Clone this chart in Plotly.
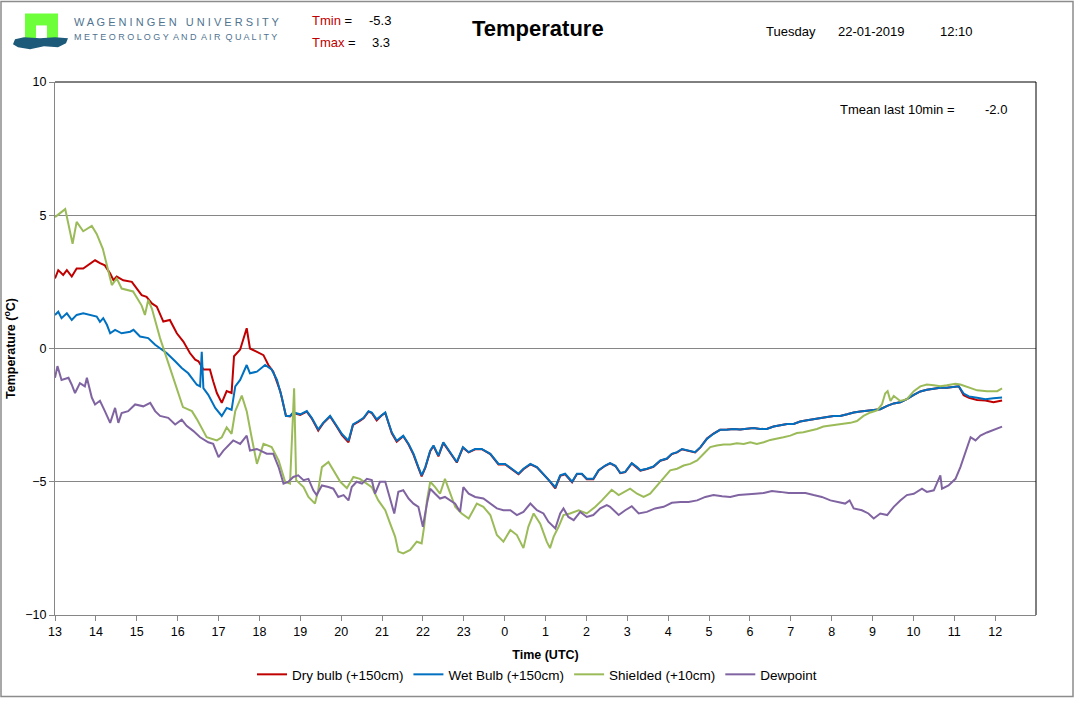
import pandas as pd
import plotly.graph_objects as go

# hours since 21-01-2019 13:00 UTC, temperatures in degC
DRY_H = [0.00, 0.08, 0.20, 0.29, 0.41, 0.53, 0.69, 0.86, 0.98, 1.10, 1.22, 1.35, 1.43, 1.51,
         1.67, 1.88, 2.00, 2.12, 2.24, 2.37, 2.49, 2.65, 2.81, 2.98, 3.14, 3.30, 3.43, 3.51,
         3.63, 3.79, 3.87, 3.96, 4.08, 4.20, 4.32, 4.38, 4.53, 4.61, 4.69, 4.77, 4.94, 5.10,
         5.22, 5.34, 5.51, 5.65, 5.75, 5.83, 6.00, 6.16, 6.28, 6.44, 6.56, 6.73, 6.89, 7.02,
         7.18, 7.29, 7.42, 7.55, 7.67, 7.75, 7.87, 8.00, 8.08, 8.16, 8.24, 8.36, 8.52, 8.65,
         8.77, 8.89, 8.97, 9.06, 9.18, 9.26, 9.38, 9.50, 9.67, 9.83, 9.98, 10.12, 10.28, 10.44,
         10.65, 10.85, 11.01, 11.18, 11.34, 11.46, 11.63, 11.79, 11.91, 12.07, 12.24, 12.36,
         12.48, 12.65, 12.77, 12.89, 13.01, 13.17, 13.30, 13.46, 13.58, 13.71, 13.83, 13.95,
         14.11, 14.24, 14.32, 14.48, 14.64, 14.81, 14.97, 15.09, 15.22, 15.34, 15.50, 15.66,
         15.79, 15.95, 16.11, 16.27, 16.44, 16.60, 16.76, 16.93, 17.09, 17.25, 17.42, 17.58,
         17.74, 17.91, 18.07, 18.23, 18.40, 18.56, 18.72, 18.89, 19.05, 19.21, 19.38, 19.54,
         19.70, 19.87, 20.03, 20.19, 20.36, 20.52, 20.68, 20.84, 21.01, 21.17, 21.33, 21.50,
         21.66, 21.82, 21.99, 22.11, 22.23, 22.36, 22.56, 22.76, 22.96, 23.17]
DRY_T = [2.63, 2.94, 2.76, 2.94, 2.70, 3.00, 3.00, 3.20, 3.31, 3.20, 3.12, 2.81, 2.56, 2.70,
         2.56, 2.50, 2.25, 2.00, 1.94, 1.69, 1.57, 1.01, 1.07, 0.57, 0.26, -0.17, -0.42, -0.48,
         -0.79, -0.79, -1.23, -1.67, -2.04, -1.60, -1.67, -0.29, -0.04, 0.39, 0.76, 0.00, -0.12, -0.25,
         -0.62, -0.87, -1.60, -2.53, -2.55, -2.42, -2.49, -2.37, -2.62, -3.08, -2.81, -2.55, -2.93, -3.25,
         -3.52, -2.87, -2.75, -2.62, -2.37, -2.42, -2.70, -2.50, -2.42, -2.81, -3.18, -3.50, -3.29, -3.60,
         -3.98, -4.48, -4.80, -4.47, -3.85, -3.66, -4.05, -3.54, -3.90, -4.28, -3.72, -3.90, -3.78, -3.78,
         -3.96, -4.35, -4.34, -4.53, -4.72, -4.53, -4.35, -4.46, -4.66, -4.92, -5.25, -4.78,
         -4.72, -5.02, -4.71, -4.71, -4.91, -4.91, -4.58, -4.40, -4.31, -4.41, -4.68, -4.64,
         -4.31, -4.46, -4.58, -4.52, -4.44, -4.21, -4.14, -3.96, -3.90, -3.78, -3.84, -3.90,
         -3.71, -3.38, -3.19, -3.05, -3.04, -3.02, -3.04, -3.02, -2.98, -3.02, -3.01, -2.93,
         -2.88, -2.83, -2.83, -2.74, -2.69, -2.66, -2.62, -2.57, -2.53, -2.53, -2.47, -2.40,
         -2.36, -2.34, -2.32, -2.28, -2.15, -2.06, -2.02, -1.90, -1.74, -1.61, -1.55, -1.51,
         -1.47, -1.47, -1.45, -1.42, -1.75, -1.85, -1.93, -1.95, -2.02, -1.95]

WET_H = [0.00, 0.08, 0.16, 0.29, 0.41, 0.53, 0.69, 0.86, 1.02, 1.10, 1.18, 1.27, 1.35, 1.47,
         1.63, 1.84, 1.92, 2.08, 2.28, 2.45, 2.61, 2.73, 2.94, 3.10, 3.26, 3.47, 3.55, 3.59,
         3.63, 3.75, 3.92, 4.08, 4.20, 4.32, 4.41, 4.53, 4.69, 4.77, 4.94, 5.06, 5.14, 5.30,
         5.43, 5.55, 5.65, 5.75, 5.83, 6.00, 6.16, 6.28, 6.44, 6.56, 6.73, 6.89, 7.02,
         7.18, 7.29, 7.42, 7.55, 7.67, 7.75, 7.87, 8.00, 8.08, 8.16, 8.24, 8.36, 8.52, 8.65,
         8.77, 8.89, 8.97, 9.06, 9.18, 9.26, 9.38, 9.50, 9.67, 9.83, 9.98, 10.12, 10.28, 10.44,
         10.65, 10.85, 11.01, 11.18, 11.34, 11.46, 11.63, 11.79, 11.91, 12.07, 12.24, 12.36,
         12.48, 12.65, 12.77, 12.89, 13.01, 13.17, 13.30, 13.46, 13.58, 13.71, 13.83, 13.95,
         14.11, 14.24, 14.32, 14.48, 14.64, 14.81, 14.97, 15.09, 15.22, 15.34, 15.50, 15.66,
         15.79, 15.95, 16.11, 16.27, 16.44, 16.60, 16.76, 16.93, 17.09, 17.25, 17.42, 17.58,
         17.74, 17.91, 18.07, 18.23, 18.40, 18.56, 18.72, 18.89, 19.05, 19.21, 19.38, 19.54,
         19.70, 19.87, 20.03, 20.19, 20.36, 20.52, 20.68, 20.84, 21.01, 21.17, 21.33, 21.50,
         21.66, 21.82, 21.99, 22.11, 22.23, 22.36, 22.56, 22.76, 22.96, 23.17]
WET_T = [1.26, 1.38, 1.14, 1.32, 1.07, 1.26, 1.32, 1.26, 1.20, 1.00, 1.14, 0.89, 0.57, 0.70,
         0.57, 0.63, 0.70, 0.45, 0.39, 0.14, -0.04, -0.17, -0.48, -0.73, -0.93, -1.36, -1.42, -0.12,
         -1.49, -1.74, -2.23, -2.53, -2.23, -2.30, -1.42, -1.18, -0.62, -0.93, -0.87, -0.73, -0.62, -0.79,
         -1.18, -1.84, -2.53, -2.53, -2.40, -2.47, -2.35, -2.60, -3.04, -2.79, -2.53, -2.90, -3.21,
         -3.46, -2.85, -2.73, -2.60, -2.35, -2.40, -2.66, -2.48, -2.40, -2.79, -3.15, -3.46, -3.27, -3.58,
         -3.95, -4.45, -4.76, -4.45, -3.83, -3.64, -4.02, -3.52, -3.89, -4.26, -3.70, -3.89, -3.77, -3.77,
         -3.95, -4.33, -4.33, -4.51, -4.70, -4.51, -4.33, -4.45, -4.64, -4.89, -5.20, -4.76,
         -4.70, -5.00, -4.70, -4.70, -4.89, -4.89, -4.57, -4.39, -4.30, -4.40, -4.67, -4.63,
         -4.30, -4.45, -4.57, -4.51, -4.43, -4.20, -4.13, -3.95, -3.89, -3.77, -3.83, -3.89,
         -3.70, -3.39, -3.20, -3.05, -3.05, -3.02, -3.04, -3.02, -2.98, -3.02, -3.02, -2.93,
         -2.88, -2.83, -2.83, -2.74, -2.69, -2.66, -2.62, -2.57, -2.53, -2.53, -2.47, -2.40,
         -2.36, -2.34, -2.32, -2.28, -2.15, -2.06, -2.02, -1.90, -1.74, -1.61, -1.55, -1.51,
         -1.47, -1.47, -1.45, -1.42, -1.69, -1.80, -1.85, -1.90, -1.87, -1.84]

SHD_H = [0.00, 0.25, 0.43, 0.53, 0.69, 0.90, 1.02, 1.17, 1.39, 1.51, 1.63, 1.91, 2.12, 2.20,
         2.28, 2.37, 2.57, 2.73, 2.94, 3.13, 3.35, 3.47, 3.71, 3.96, 4.08, 4.20, 4.32, 4.41,
         4.57, 4.69, 4.81, 4.94, 5.10, 5.30, 5.47, 5.63, 5.75, 5.85, 5.90, 6.08, 6.20, 6.36,
         6.44, 6.53, 6.69, 6.85, 6.98, 7.14, 7.30, 7.46, 7.63, 7.75, 7.91, 8.08, 8.20, 8.32,
         8.40, 8.52, 8.69, 8.85, 8.97, 9.03, 9.10, 9.18, 9.30, 9.42, 9.54, 9.67, 9.79, 9.95,
         10.12, 10.32, 10.48, 10.65, 10.81, 10.97, 11.14, 11.30, 11.46, 11.58, 11.71, 11.87,
         12.03, 12.11, 12.20, 12.32, 12.44, 12.60, 12.81, 13.01, 13.22, 13.38, 13.50, 13.62,
         13.79, 13.95, 14.07, 14.24, 14.40, 14.56, 14.73, 14.89, 15.05, 15.22, 15.38, 15.54,
         15.71, 15.87, 16.03, 16.19, 16.36, 16.52, 16.68, 16.85, 17.01, 17.17, 17.34, 17.50,
         17.66, 17.82, 17.99, 18.15, 18.31, 18.48, 18.64, 18.80, 18.97, 19.13, 19.29, 19.46,
         19.62, 19.78, 19.95, 20.11, 20.23, 20.31, 20.37, 20.44, 20.52, 20.68, 20.84, 21.01,
         21.17, 21.33, 21.50, 21.66, 21.82, 22.03, 22.15, 22.36, 22.56, 22.80, 23.05, 23.17]
SHD_T = [4.93, 5.23, 3.93, 4.75, 4.40, 4.60, 4.30, 3.74, 2.38, 2.63, 2.25, 2.14, 1.61, 1.26,
         1.82, 1.50, 0.39, -0.35, -1.35, -2.20, -2.35, -2.65, -3.33, -3.45, -3.33, -2.96, -3.20, -2.35,
         -1.77, -2.35, -3.33, -4.33, -3.58, -3.70, -4.20, -5.00, -5.07, -1.49, -4.94, -5.20, -5.57, -5.82,
         -5.32, -4.45, -4.26, -4.64, -5.00, -5.24, -4.82, -4.89, -5.07, -5.20, -5.70, -6.07, -6.57, -7.06,
         -7.62, -7.69, -7.56, -7.25, -7.31, -6.69, -5.70, -5.00, -5.20, -5.45, -4.89, -5.45, -5.94, -6.19,
         -6.38, -5.82, -5.94, -6.25, -7.00, -7.25, -6.81, -7.00, -7.49, -6.69, -6.19, -6.57,
         -7.25, -7.49, -7.06, -6.69, -6.25, -6.19, -6.07, -6.19, -5.94, -5.70, -5.50, -5.30,
         -5.50, -5.38, -5.26, -5.45, -5.57, -5.45, -5.14, -4.89, -4.57, -4.51, -4.39, -4.33,
         -4.20, -3.95, -3.70, -3.64, -3.60, -3.60, -3.56, -3.58, -3.52, -3.58, -3.52, -3.43,
         -3.39, -3.33, -3.27, -3.17, -3.14, -3.08, -3.02, -2.93, -2.89, -2.86, -2.83, -2.79,
         -2.72, -2.53, -2.40, -2.32, -2.10, -1.69, -1.60, -1.97, -1.78, -1.97, -1.90, -1.60,
         -1.42, -1.35, -1.38, -1.42, -1.38, -1.32, -1.35, -1.47, -1.57, -1.60, -1.60, -1.50]

DEW_H = [0.00, 0.06, 0.16, 0.33, 0.41, 0.49, 0.61, 0.73, 0.78, 0.90, 0.98, 1.10, 1.22, 1.35,
         1.47, 1.55, 1.63, 1.79, 1.96, 2.16, 2.33, 2.45, 2.57, 2.77, 2.94, 3.10, 3.22, 3.38,
         3.55, 3.75, 3.87, 4.00, 4.12, 4.24, 4.36, 4.53, 4.69, 4.77, 4.94, 5.18, 5.34, 5.47,
         5.59, 5.71, 5.83, 5.95, 6.08, 6.20, 6.32, 6.40, 6.53, 6.69, 6.81, 6.93, 7.06, 7.18,
         7.26, 7.38, 7.51, 7.63, 7.75, 7.83, 7.95, 8.08, 8.20, 8.30, 8.40, 8.52, 8.65, 8.77,
         8.89, 9.00, 9.10, 9.18, 9.30, 9.42, 9.54, 9.67, 9.79, 9.91, 9.99, 10.12, 10.28, 10.48,
         10.65, 10.81, 10.97, 11.14, 11.30, 11.46, 11.63, 11.79, 11.95, 12.07, 12.24, 12.36,
         12.44, 12.56, 12.69, 12.85, 13.01, 13.17, 13.34, 13.50, 13.58, 13.79, 13.95, 14.11,
         14.28, 14.48, 14.68, 14.89, 15.09, 15.30, 15.50, 15.71, 15.91, 16.11, 16.32, 16.52,
         16.72, 16.93, 17.13, 17.34, 17.54, 17.74, 17.95, 18.15, 18.36, 18.56, 18.76, 18.97,
         19.13, 19.33, 19.44, 19.54, 19.74, 19.90, 20.03, 20.19, 20.36, 20.52, 20.68, 20.84,
         21.01, 21.21, 21.33, 21.50, 21.66, 21.70, 21.86, 22.03, 22.15, 22.27, 22.40, 22.52,
         22.64, 22.80, 22.96, 23.09, 23.17]
DEW_T = [-1.10, -0.66, -1.18, -1.10, -1.36, -1.67, -1.30, -1.42, -1.10, -1.84, -2.10, -1.96, -2.35, -2.79,
         -2.23, -2.79, -2.42, -2.35, -2.10, -2.17, -2.04, -2.35, -2.53, -2.60, -2.85, -2.67, -2.90, -3.09,
         -3.33, -3.52, -3.58, -4.08, -3.83, -3.64, -3.45, -3.58, -3.27, -3.83, -3.77, -3.95, -3.95, -4.45,
         -5.07, -5.00, -4.82, -4.76, -4.94, -4.89, -5.32, -5.50, -5.14, -5.20, -5.26, -5.57, -5.50, -5.70,
         -5.20, -5.00, -5.07, -4.89, -4.94, -5.45, -5.00, -5.00, -5.63, -6.19, -5.38, -5.32, -5.63, -5.82,
         -5.94, -6.69, -5.82, -5.26, -5.45, -5.63, -5.57, -5.70, -5.82, -6.13, -5.20, -5.45, -5.57, -5.63,
         -5.82, -6.00, -6.07, -6.07, -6.25, -6.13, -5.82, -6.07, -6.19, -6.50, -6.75, -6.19,
         -6.00, -6.32, -6.44, -6.13, -6.32, -6.25, -6.00, -5.88, -5.94, -6.25, -6.07, -5.92,
         -6.19, -6.13, -6.00, -5.94, -5.79, -5.76, -5.76, -5.70, -5.57, -5.50, -5.54, -5.57,
         -5.50, -5.46, -5.45, -5.42, -5.35, -5.38, -5.42, -5.42, -5.42, -5.50, -5.57, -5.70,
         -5.76, -5.82, -5.70, -6.00, -6.07, -6.19, -6.38, -6.19, -6.25, -5.94, -5.70, -5.50,
         -5.45, -5.26, -5.38, -5.32, -4.76, -5.26, -5.14, -4.89, -4.45, -3.95, -3.33, -3.45,
         -3.27, -3.15, -3.05, -2.96, -2.93]

HOUR_LABELS = ["13", "14", "15", "16", "17", "18", "19", "20", "21", "22", "23", "0",
               "1", "2", "3", "4", "5", "6", "7", "8", "9", "10", "11", "12"]
Y_TICKS = [-10, -5, 0, 5, 10]

START = pd.Timestamp("2019-01-21 13:00")
W, H = 1074, 702
ML, MR, MT, MB = 55, 38, 82, 83
PW, PH = W - ML - MR, H - MT - MB


def tm(hours):
    return [START + pd.Timedelta(hours=h) for h in hours]


def px(x, y):
    # pixel position in the page -> paper coordinates
    return (x - ML) / PW, (H - MB - y) / PH


fig = go.Figure()
series = [
    ("Dry bulb (+150cm)", DRY_H, DRY_T, "#c00000"),
    ("Wet Bulb (+150cm)", WET_H, WET_T, "#0070c0"),
    ("Shielded (+10cm)", SHD_H, SHD_T, "#9bbb59"),
    ("Dewpoint", DEW_H, DEW_T, "#8064a2"),
]
for name, hh, tt, col in series:
    fig.add_trace(go.Scatter(x=tm(hh), y=tt, name=name, mode="lines",
                             line=dict(color=col, width=2)))

tickvals = [START + pd.Timedelta(hours=i) for i in range(len(HOUR_LABELS))]

fig.update_xaxes(
    range=[START, START + pd.Timedelta(hours=24)],
    tickvals=tickvals, ticktext=HOUR_LABELS, automargin=False,
    showgrid=False, showline=True, linecolor="#868686", linewidth=1,
    ticks="outside", ticklen=5, tickcolor="#868686",
    tickfont=dict(size=12.5, color="#000000"),
    title=dict(text="<b>Time (UTC)</b>", font=dict(size=12.5, color="#000000"), standoff=12),
)
fig.update_yaxes(
    range=[-10, 10], tickvals=Y_TICKS, automargin=False,
    showgrid=True, gridcolor="#868686", gridwidth=1,
    showline=True, linecolor="#868686", linewidth=1,
    ticks="outside", ticklen=5, tickcolor="#868686",
    tickfont=dict(size=12.5, color="#000000"), zeroline=False,
    title=dict(text="<b>Temperature (<sup>o</sup>C)</b>", font=dict(size=12.5, color="#000000"),
               standoff=6),
)

shapes = []
# black top/right frame of the plot area
shapes.append(dict(type="line", xref="paper", yref="paper", x0=0, x1=1, y0=1, y1=1,
                   line=dict(color="#000000", width=1)))
shapes.append(dict(type="line", xref="paper", yref="paper", x0=1, x1=1, y0=0, y1=1,
                   line=dict(color="#000000", width=1)))
# grey frame round the whole page
x0, y0 = px(1, H - 1)
x1, y1 = px(W - 1, 1)
shapes.append(dict(type="rect", xref="paper", yref="paper", x0=x0, x1=x1, y0=y0, y1=y1,
                   line=dict(color="#8c8c8c", width=1.5)))
# logo
x0, y0 = px(25, 41)
x1, y1 = px(58, 13)
shapes.append(dict(type="rect", xref="paper", yref="paper", x0=x0, x1=x1, y0=y0, y1=y1,
                   fillcolor="#6cff3a", line=dict(width=0)))
x0, y0 = px(36, 41)
x1, y1 = px(47, 25)
shapes.append(dict(type="rect", xref="paper", yref="paper", x0=x0, x1=x1, y0=y0, y1=y1,
                   fillcolor="#ffffff", line=dict(width=0)))
wave = [(15, 39), (24, 37), (40, 38), (55, 37), (68, 38), (66, 43), (58, 47), (44, 46),
        (30, 49), (18, 47), (13, 44)]
path = ""
for i, (wx, wy) in enumerate(wave):
    a, b = px(wx, wy)
    path += ("M" if i == 0 else "L") + f"{a:.5f},{b:.5f} "
shapes.append(dict(type="path", xref="paper", yref="paper", path=path + "Z",
                   fillcolor="#1d5a7a", line=dict(width=0)))

annotations = []


def note(x, y, text, size=13, color="#000000", anchor="left", family="Liberation Sans"):
    a, b = px(x, y)
    annotations.append(dict(x=a, y=b, xref="paper", yref="paper", text=text, showarrow=False,
                            xanchor=anchor, yanchor="middle",
                            font=dict(size=size, color=color, family=family)))


note(72, 22, "W A G E N I N G E N   U N I V E R S I T Y", size=11, color="#4f7390")
note(72, 37, "M E T E O R O L O G Y  A N D  A I R  Q U A L I T Y", size=9, color="#4f7390")
note(310, 20, "<span style='color:#c00000'>Tmin</span> =", size=13)
note(367, 20, "-5.3", size=13)
note(310, 42, "<span style='color:#c00000'>Tmax</span> =", size=13)
note(370, 42, "3.3", size=13)
note(538, 28, "<b>Temperature</b>", size=22, anchor="center")
note(764, 31, "Tuesday", size=13)
note(836, 31, "22-01-2019", size=13)
note(938, 31, "12:10", size=13)
note(838, 110, "Tmean last 10min =", size=13)
note(983, 110, "-2.0", size=13)

lx, ly = px(537, 679)
fig.update_layout(
    width=W, height=H,
    margin=dict(l=ML, r=MR, t=MT, b=MB),
    paper_bgcolor="#ffffff", plot_bgcolor="#ffffff",
    font=dict(family="Liberation Sans", size=12.5, color="#000000"),
    shapes=shapes, annotations=annotations,
    legend=dict(orientation="h", x=lx, y=ly, xanchor="center", yanchor="middle",
                font=dict(size=13.5), itemwidth=30, tracegroupgap=0),
    showlegend=True,
)

# page margin off and no overflow, so the figure fills the window exactly
page_css = (
    "document.documentElement.style.overflow='hidden';"
    "document.body.style.margin='0px';"
    "document.body.style.overflow='hidden';"
    "document.body.style.height='702px';"
)
fig.write_html("out.html", config={"displayModeBar": False}, post_script=page_css)
